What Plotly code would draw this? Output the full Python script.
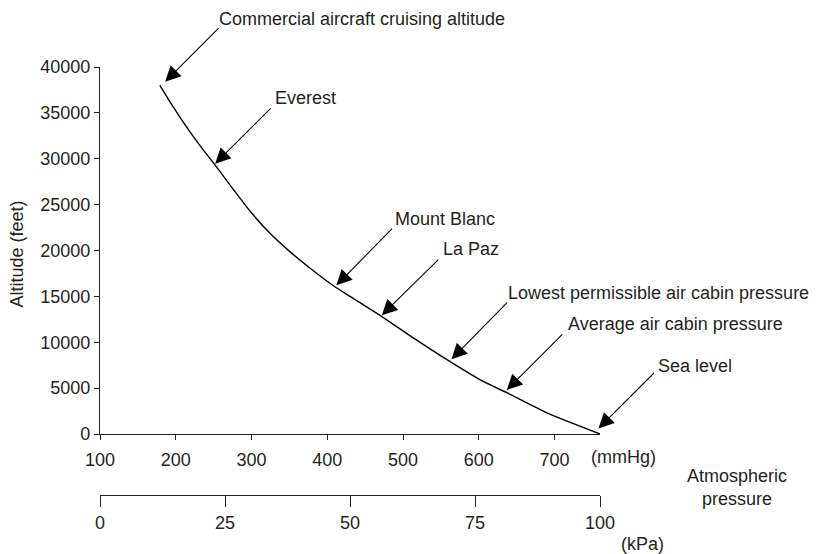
import plotly.graph_objects as go

# ---- data ----
pressure_mmhg = [179, 197, 219, 236, 252, 272, 298, 324, 351, 377, 410, 430,
                 472, 514, 558, 602, 637, 690, 760]
altitude_ft = [38000, 35600, 32900, 31000, 29300, 27100, 24300, 21900, 19850, 18100, 16050, 15000,
               12800, 10450, 8100, 5900, 4500, 2300, 0]

label_names = [
    "Commercial aircraft cruising altitude",
    "Everest",
    "Mount Blanc",
    "La Paz",
    "Lowest permissible air cabin pressure",
    "Average air cabin pressure",
    "Sea level",
]
label_pressure = [186, 252, 412, 472, 564, 637, 758]
label_altitude = [38400, 29450, 16200, 12950, 8150, 4800, 600]

mmhg_ticks = [100, 200, 300, 400, 500, 600, 700]
kpa_ticks = [0, 25, 50, 75, 100]
alt_ticks = [0, 5000, 10000, 15000, 20000, 25000, 30000, 35000, 40000]

# ---- styles / layout offsets ----
INK = "#231f20"
FONT = "Liberation Sans, Arial, Helvetica, sans-serif"
arrow_ax = [55, 57, 57, 58, 57, 57, 57]
arrow_ay = [-55, -57, -58, -57, -58, -57, -57]
text_dx = [52, 58, 57, 59, 54, 59, 58]
text_dy = [63, 66, 66, 66, 66, 66, 63]

fig = go.Figure()
fig.add_trace(go.Scatter(
    x=pressure_mmhg, y=altitude_ft, mode="lines",
    line=dict(color="black", width=1.4, shape="spline", smoothing=0.6),
    hoverinfo="skip", showlegend=False,
))
# invisible trace to carry the kPa axis
fig.add_trace(go.Scatter(
    x=kpa_ticks, y=[0] * len(kpa_ticks), xaxis="x2", yaxis="y",
    mode="markers", marker=dict(opacity=0), hoverinfo="skip", showlegend=False,
))

annotations = []
for i, name in enumerate(label_names):
    annotations.append(dict(
        x=label_pressure[i], y=label_altitude[i], xref="x", yref="y",
        text="", showarrow=True, arrowhead=2, arrowsize=2.8, arrowwidth=1.1,
        arrowcolor="black", ax=arrow_ax[i], ay=arrow_ay[i], standoff=0,
    ))
    annotations.append(dict(
        x=label_pressure[i], y=label_altitude[i], xref="x", yref="y",
        text=name, showarrow=False, xanchor="left", yanchor="middle",
        xshift=text_dx[i], yshift=text_dy[i],
        font=dict(size=18, color=INK, family=FONT),
    ))

annotations += [
    dict(x=-0.165, y=0.563, xref="paper", yref="paper", text="Altitude (feet)",
         textangle=-90, showarrow=False, xanchor="center", yanchor="middle",
         font=dict(size=18, color=INK, family=FONT)),
    dict(x=1.046, y=0.0888, xref="paper", yref="paper", text="(mmHg)",
         showarrow=False, xanchor="center", yanchor="middle",
         font=dict(size=18, color=INK, family=FONT)),
    dict(x=1.084, y=-0.1145, xref="paper", yref="paper", text="(kPa)",
         showarrow=False, xanchor="center", yanchor="middle",
         font=dict(size=18, color=INK, family=FONT)),
    dict(x=1.274, y=0.0164, xref="paper", yref="paper", text="Atmospheric<br>pressure",
         showarrow=False, align="center", xanchor="center", yanchor="middle",
         font=dict(size=18, color=INK, family=FONT)),
]

fig.update_layout(
    width=819, height=546,
    margin=dict(l=92, r=227, t=59, b=59),
    paper_bgcolor="white", plot_bgcolor="white",
    font=dict(family=FONT, size=18, color=INK),
    showlegend=False,
    xaxis=dict(
        range=[100, 760], anchor="y", showgrid=False, zeroline=False,
        showline=True, linecolor=INK, linewidth=1.3,
        ticks="outside", ticklen=5, tickwidth=1.2, tickcolor=INK,
        tickvals=mmhg_ticks, ticklabelstandoff=4,
        tickfont=dict(size=18, color=INK, family=FONT),
    ),
    xaxis2=dict(
        range=[0, 100], overlaying="x", anchor="free", position=0, side="bottom",
        showgrid=False, zeroline=False,
        showline=True, linecolor=INK, linewidth=1.3,
        ticks="outside", ticklen=11, tickwidth=1.2, tickcolor=INK,
        tickvals=kpa_ticks, tickfont=dict(size=18, color=INK, family=FONT),
    ),
    yaxis=dict(
        range=[0, 40000], domain=[0.1425, 1], anchor="x",
        showgrid=False, zeroline=False,
        showline=True, linecolor=INK, linewidth=1.3,
        ticks="outside", ticklen=5, tickwidth=1.2, tickcolor=INK,
        tickvals=alt_ticks, tickformat="d",
        tickfont=dict(size=18, color=INK, family=FONT),
    ),
    annotations=annotations,
)

fig.write_html("out.html")
